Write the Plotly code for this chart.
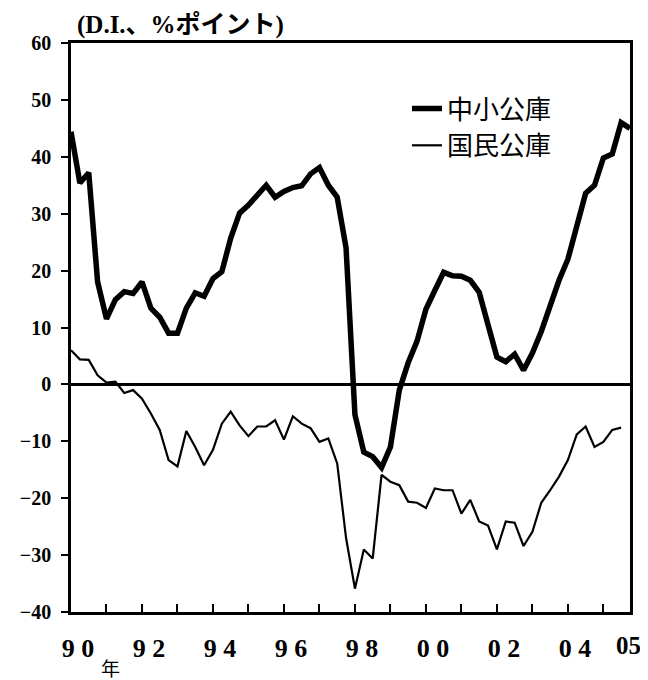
import plotly.graph_objects as go

# Quarterly observations, 1990Q1 onward
quarters = [f"{1990 + q // 4}Q{q % 4 + 1}" for q in range(64)]

chusho = [44.4, 35.4, 37.2, 18.0, 11.5, 14.9, 16.3, 16.0, 18.0, 13.4,
          11.8, 9.0, 9.0, 13.4, 16.1, 15.5, 18.6, 19.8, 25.7, 30.1,
          31.5, 33.1, 35.0, 32.9, 33.9, 34.6, 34.9, 37.0, 38.1, 35.0,
          32.9, 24.0, -5.3, -11.9, -12.7, -14.6, -11.0, -1.0, 3.8, 7.6,
          13.2, 16.5, 19.7, 19.1, 19.0, 18.3, 16.2, 10.5, 4.8, 4.0,
          5.3, 2.5, 5.5, 9.3, 14.0, 18.3, 22.0, 27.5, 33.6, 35.0,
          39.8, 40.5, 46.0, 45.0]

kokumin = [6.0, 4.4, 4.3, 1.6, 0.3, 0.5, -1.5, -1.0, -2.5, -5.1,
           -8.0, -13.3, -14.4, -8.2, -11.0, -14.2, -11.5, -6.9, -4.8, -7.2,
           -9.1, -7.4, -7.4, -6.3, -9.7, -5.6, -6.9, -7.7, -10.1, -9.5,
           -13.9, -27.0, -35.9, -29.0, -30.6, -15.9, -17.1, -17.7, -20.6, -20.8,
           -21.7, -18.3, -18.6, -18.6, -22.7, -20.3, -24.1, -24.8, -29.0, -24.1,
           -24.3, -28.4, -25.9, -20.8, -18.6, -16.2, -13.3, -8.8, -7.4, -11.0,
           -10.1, -8.0, -7.6]

series_names = ["中小公庫", "国民公庫"]

x_label_pos = [1990.2, 1992.2, 1994.2, 1996.2, 1998.2, 2000.2, 2002.2, 2004.2]
x_label_text = ["9 0", "9 2", "9 4", "9 6", "9 8", "0 0", "0 2", "0 4"]
x_tick_marks = list(range(1991, 2006))
last_label = "05"
y_ticks = [-40, -30, -20, -10, 0, 10, 20, 30, 40, 50, 60]


def q_to_year(q):
    y, qq = q.split("Q")
    return int(y) + (int(qq) - 1) / 4


x_thick = [q_to_year(q) for q in quarters[:len(chusho)]]
x_thin = [q_to_year(q) for q in quarters[:len(kokumin)]]

fig = go.Figure()
fig.add_trace(go.Scatter(x=x_thick, y=chusho, mode="lines", name=series_names[0],
                         legendgroup="a",
                         line=dict(color="black", width=5.5)))
fig.add_trace(go.Scatter(x=x_thin, y=kokumin, mode="lines", name=series_names[1],
                         legendgroup="b",
                         line=dict(color="black", width=2.2)))

serif = "Liberation Serif, Noto Sans CJK JP"

fig.update_layout(
    width=640, height=672,
    margin=dict(l=58, r=18, t=35, b=68),
    paper_bgcolor="white", plot_bgcolor="white",
    showlegend=True,
    legend=dict(x=0.601, y=0.926, xanchor="left", yanchor="top",
                font=dict(family="Noto Sans CJK JP", size=26, color="black"),
                bgcolor="rgba(0,0,0,0)", tracegroupgap=0,
                itemwidth=30),
    xaxis=dict(range=[1990, 2005.75], showgrid=False, zeroline=False,
               showline=True, linecolor="black", linewidth=2.5, mirror=True,
               tickmode="array", tickvals=x_label_pos, ticktext=x_label_text,
               ticks="", ticklabelstandoff=11,
               tickfont=dict(family=serif, size=26, color="black", weight="bold"),
               minor=dict(tickmode="array", tickvals=x_tick_marks, ticks="inside",
                          ticklen=8, tickwidth=2, tickcolor="black", showgrid=False)),
    yaxis=dict(range=[-40, 60], showgrid=False, zeroline=True,
               zerolinecolor="black", zerolinewidth=2.5,
               showline=True, linecolor="black", linewidth=2.5, mirror=True,
               tickmode="array", tickvals=y_ticks,
               ticks="outside", ticklen=7, tickwidth=2, tickcolor="black",
               ticklabelstandoff=6,
               tickfont=dict(family=serif, size=20, color="black", weight="bold")),
    annotations=[
        dict(text="(D.I.、%ポイント)", xref="paper", yref="paper",
             x=0.008, y=1.0316, xanchor="left", yanchor="middle", showarrow=False,
             font=dict(family=serif, size=25, color="black", weight="bold")),
        dict(text="年", xref="paper", yref="paper", x=0.0709, y=-0.0975,
             xanchor="center", yanchor="middle", showarrow=False,
             font=dict(family="Noto Sans CJK JP", size=19, color="black")),
        dict(text=last_label, xref="paper", yref="paper", x=0.998, y=-0.0589,
             xanchor="center", yanchor="middle", showarrow=False,
             font=dict(family=serif, size=25, color="black", weight="bold")),
    ],
)

fig.write_html("out.html")
